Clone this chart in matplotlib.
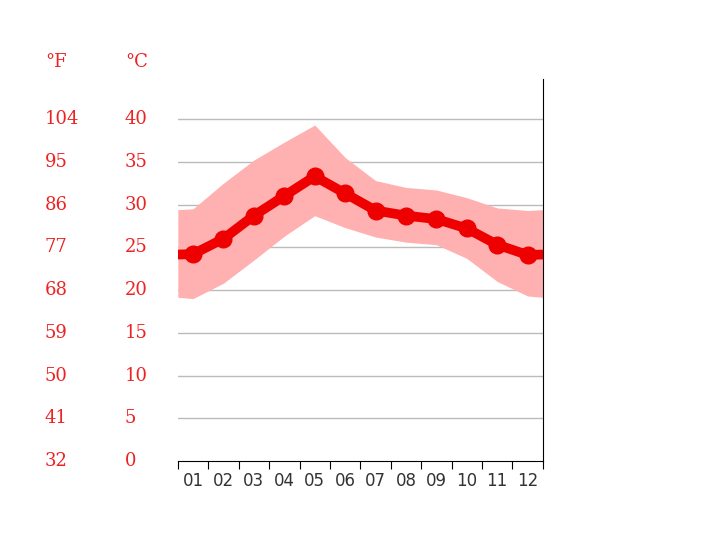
import matplotlib
matplotlib.use("Agg")
import matplotlib.pyplot as plt
import numpy as np

months = ["01","02","03","04","05","06","07","08","09","10","11","12"]
t_mean = [24.2, 26.0, 28.7, 31.0, 33.3, 31.3, 29.3, 28.7, 28.3, 27.2, 25.3, 24.1]
t_max = [29.5, 32.5, 35.2, 37.3, 39.3, 35.5, 32.8, 32.0, 31.7, 30.8, 29.6, 29.3]
t_min = [19.0, 20.8, 23.5, 26.3, 28.7, 27.3, 26.2, 25.6, 25.3, 23.7, 21.0, 19.3]
c_ticks = [0, 5, 10, 15, 20, 25, 30, 35, 40]
f_ticks = [32, 41, 50, 59, 68, 77, 86, 95, 104]

fig = plt.figure(figsize=(7.2, 5.39), dpi=100)
ax = fig.add_axes([0.247, 0.1447, 0.507, 0.709])
x = np.arange(12) + 0.5
def ext(v):
    e = (v[0] + v[-1]) / 2
    return [e] + list(v) + [e]
xe = [0] + list(x) + [12]
ax.fill_between(xe, ext(t_min), ext(t_max), color="#ffb0b0", lw=0, zorder=2)
ax.plot(xe, ext(t_mean), color="#ee0000", lw=7, zorder=3, solid_joinstyle="round")
ax.plot(x, t_mean, "o", color="#ee0000", ms=12, zorder=4)
ax.set_xlim(0, 12)
ax.set_ylim(0, 44.7)
for c in c_ticks[1:]:
    ax.axhline(c, color="#bbbbbb", lw=1, zorder=1)
for s in ["top", "left"]:
    ax.spines[s].set_visible(False)
ax.spines["right"].set_color("black")
ax.spines["bottom"].set_color("black")
ax.set_yticks([])
ax.set_xticks(np.arange(13))
ax.set_xticklabels([])
ax.set_xticks(x, minor=True)
ax.set_xticklabels(months, minor=True, fontsize=12, color="#333333")
ax.tick_params(axis="x", which="major", length=6, direction="out")
ax.tick_params(axis="x", which="minor", length=0, pad=8)
cx = -53/30.4
fx = -133/30.4
for c, f in zip(c_ticks, f_ticks):
    ax.text(cx, c, str(c), color="#ee2222", fontsize=13, ha="left", va="center", family="DejaVu Serif", clip_on=False)
    ax.text(fx, c, str(f), color="#ee2222", fontsize=13, ha="left", va="center", family="DejaVu Serif", clip_on=False)
ax.text(cx, 46.7, "°C", color="#ee2222", fontsize=13, ha="left", va="center", family="DejaVu Serif", clip_on=False)
ax.text(fx, 46.7, "°F", color="#ee2222", fontsize=13, ha="left", va="center", family="DejaVu Serif", clip_on=False)
fig.savefig("out.png", dpi=100)
